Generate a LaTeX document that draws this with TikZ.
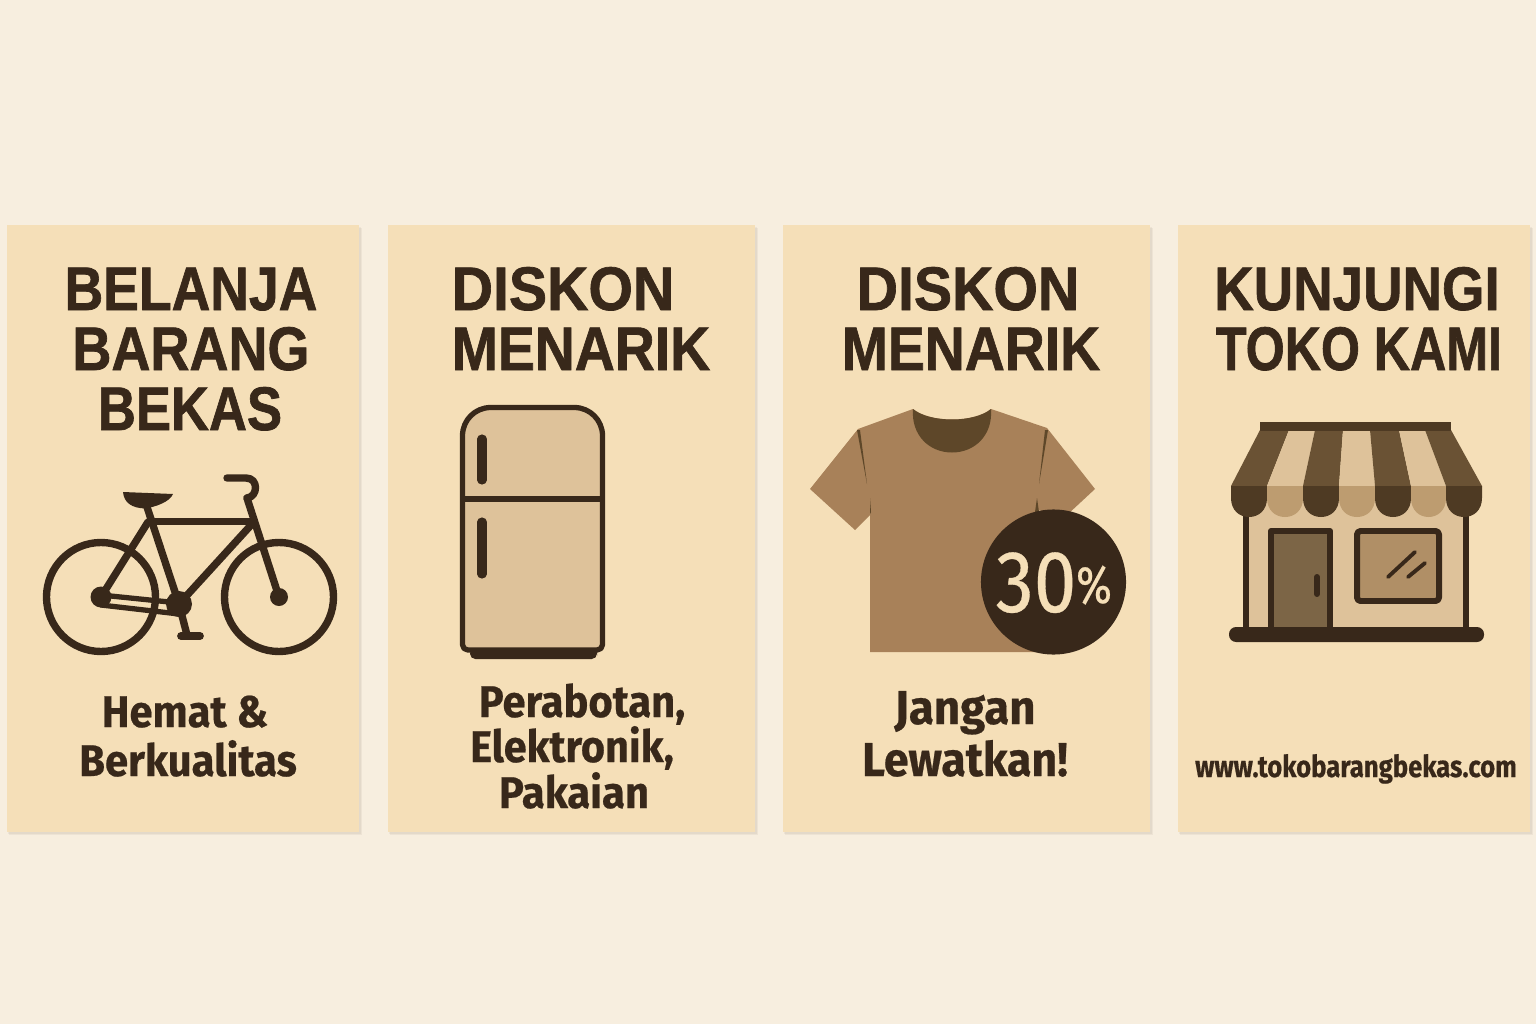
\documentclass[tikz,border=0pt]{standalone}
\usepackage{fontspec}
\setmainfont{Fira Sans}
\newfontfamily\heavyfont[FakeBold=0.5]{Fira Sans Bold}
\newfontfamily\titlefont[FakeBold=1.2]{Liberation Sans Bold}
\newfontfamily\mediumfont[FakeBold=0.4]{Fira Sans}
\usepackage{tikz}

\definecolor{paper}{HTML}{F7EEDF}
\definecolor{panel}{HTML}{F5DFB8}
\definecolor{ink}{HTML}{38281A}
\definecolor{tan}{HTML}{DEC29A}
\definecolor{shirt}{HTML}{A88159}
\definecolor{neck}{HTML}{5E4729}
\definecolor{stripe}{HTML}{6A5234}
\definecolor{flap}{HTML}{4E3A23}
\definecolor{flaplight}{HTML}{BD9C70}
\definecolor{door}{HTML}{7C6546}
\definecolor{glass}{HTML}{B08F66}

\tikzset{
  panelbox/.style={fill=panel},
  panelshade/.style={fill=ink,opacity=0.05},
  title/.style={font=\titlefont\fontsize{17.5}{20}\selectfont,text=ink,inner sep=0pt,anchor=base,transform shape},
  caption/.style={font=\heavyfont\fontsize{12.6}{14}\selectfont,text=ink,inner sep=0pt,anchor=base,transform shape},
  bikeline/.style={draw=ink,line width=2.1pt,line cap=round,line join=round},
  outline/.style={draw=ink,line width=1.5pt,line join=round}
}

\begin{document}
\begin{tikzpicture}[x=0.01cm,y=-0.01cm]
\useasboundingbox (0,0) rectangle (1536,1024);
% Background
\fill[paper] (0,0) rectangle (1536,1024);

% Panels
\fill[panelshade] (9,228) rectangle (362,835);
\fill[panelshade] (390,228) rectangle (758,835);
\fill[panelshade] (785,228) rectangle (1153,835);
\fill[panelshade] (1180,228) rectangle (1533,835);
\fill[panelshade] (8,227) rectangle (360.5,833.5);
\fill[panelshade] (389,227) rectangle (756.5,833.5);
\fill[panelshade] (784,227) rectangle (1151.5,833.5);
\fill[panelshade] (1179,227) rectangle (1531.5,833.5);
\fill[panelbox] (7,225) rectangle (359,832);
\fill[panelbox] (388,225) rectangle (755,832);
\fill[panelbox] (783,225) rectangle (1150,832);
\fill[panelbox] (1178,225) rectangle (1530,832);

% Panel 1 text
\node[title,xscale=0.87] (belanja) at (191,310) {BELANJA};
\node[title,xscale=0.878] (barang) at (191,370) {BARANG};
\node[title,xscale=0.855] (bekas) at (190,430) {BEKAS};
\node[caption,xscale=0.94] (hemat) at (185,727) {Hemat \&};
\node[caption,xscale=0.945] (berkualitas) at (188,776) {Berkualitas};

% Bicycle
\draw[bikeline] (101,597) circle (54.5);
\draw[bikeline] (279,597) circle (54.5);
\draw[bikeline] (147,507) -- (179,604);
\draw[bikeline] (150,521.5) -- (252,521.5);
\draw[bikeline] (252,524) -- (179,604);
\draw[bikeline] (148,522) -- (101,597);
\draw[bikeline] (247,498) -- (279,597);
\draw[bikeline,line width=1.5pt] (101,595) -- (179,603);
\draw[bikeline,line width=1.5pt] (101,605) -- (179,614);
\draw[bikeline] (247,498) .. controls (258,497) and (259,478) .. (246,478) -- (227,478);
\draw[bikeline] (179,604) -- (187,635);
\draw[bikeline,line width=2.2pt] (181,636) -- (200,636);
\fill[ink] (101,597) circle (10.5);
\fill[ink] (279,597) circle (9);
\fill[ink] (179,604) circle (13);
\fill[ink] (123,492) -- (173,494) .. controls (170,502) and (155,507) .. (145,508.5) .. controls (132,508) and (124,503) .. cycle;

% Panel 2 text
\node[title,xscale=0.93] (diskonb) at (563,310) {DISKON};
\node[title,xscale=0.90] (menarikb) at (581,370) {MENARIK};
\node[caption,xscale=0.94] (perabotan) at (582,717) {Perabotan,};
\node[caption,xscale=0.935] (elektronik) at (572,762) {Elektronik,};
\node[caption,xscale=0.945] (pakaian) at (574,808) {Pakaian};

% Fridge
\fill[ink] (470,648) -- (597,648) -- (597,656) [rounded corners=1.5pt] -- (597,659) -- (470,659) -- cycle;
\draw[outline,fill=tan,rounded corners=8pt] (462.5,650) [rounded corners=1.5pt] -- (602.5,650) [rounded corners=8pt] -- (602.5,407.5) -- (462.5,407.5) [rounded corners=1.5pt] -- cycle;
\draw[outline,line width=1.8pt] (462.5,499) -- (602.5,499);
\draw[ink,line width=2.6pt,line cap=round] (482,439) -- (482,480);
\draw[ink,line width=2.6pt,line cap=round] (482,522) -- (482,574);

% Panel 3 text
\node[title,xscale=0.93] (diskonc) at (968,310) {DISKON};
\node[title,xscale=0.90] (menarikc) at (971,370) {MENARIK};
\node[caption,font=\heavyfont\fontsize{13.5}{15}\selectfont,xscale=0.96] (jangan) at (965,724) {Jangan};
\node[caption,font=\heavyfont\fontsize{13.5}{15}\selectfont,xscale=0.94] (lewatkan) at (965,776) {Lewatkan!};

% T-shirt
\fill[shirt] (913,409) -- (858,429) -- (810,489) -- (855,530) -- (870,515) -- (870,652) -- (1040,652) -- (1037,510) -- (1067,515) -- (1095,489) -- (1047,428) -- (991,409) .. controls (974,423) and (930,423) .. cycle;
\fill[neck] (913,409) .. controls (930,423) and (974,423) .. (991,409) .. controls (993,435) and (975,452.5) .. (952,452.5) .. controls (929,452.5) and (911,435) .. cycle;
\fill[neck] (857,430) -- (860,430) -- (867,484) -- cycle;
\fill[neck] (1048,430) -- (1045,430) -- (1039,484) -- cycle;
\fill[neck] (870,498) -- (871,512) -- (870,514) -- cycle;
\fill[neck] (1037,498) -- (1039,512) -- (1035,512) -- cycle;
\node[circle,fill=ink,minimum size=145*0.2845pt,inner sep=0pt] (badge) at (1053.5,582) {};
\node[font=\mediumfont\fontsize{25}{26}\selectfont,text=panel,inner sep=0pt,anchor=base,transform shape,xscale=0.87] (thirty) at (1036,612) {30};
\node[font=\mediumfont\fontsize{15}{16}\selectfont,text=panel,inner sep=0pt,anchor=base,transform shape,xscale=0.82] (percent) at (1094,603) {\%};

% Panel 4 text
\node[title,xscale=0.888] (kunjungi) at (1357,310) {KUNJUNGI};
\node[title,xscale=0.815] (toko) at (1359,370) {TOKO KAMI};
\node[caption,font=\heavyfont\fontsize{8.6}{10}\selectfont,xscale=0.85] (website) at (1356,777) {www.tokobarangbekas.com};

% Shop walls
\fill[tan] (1247,500) rectangle (1465,627);
\draw[ink,line width=1.6pt] (1246,510) -- (1246,627);
\draw[ink,line width=1.6pt] (1466,510) -- (1466,627);
\draw[outline,line width=1.7pt,fill=door] (1271,627) -- (1271,531) -- (1330,531) -- (1330,627);
\draw[ink,line width=1.7pt,line cap=round] (1317,577) -- (1317,594);
\draw[outline,line width=1.7pt,fill=glass,rounded corners=1pt] (1357,531) rectangle (1439,601);
\draw[ink,line width=1.1pt,line cap=round] (1388,577) -- (1415,552);
\draw[ink,line width=1.1pt,line cap=round] (1408,577) -- (1425,563);
\fill[ink,rounded corners=2pt] (1229,627) rectangle (1484,642);

% Awning
\fill[stripe] (1260,430) -- (1289,430) -- (1267,486) -- (1231,486) -- cycle;
\fill[tan] (1289,430) -- (1315,430) -- (1303,486) -- (1267,486) -- cycle;
\fill[stripe] (1315,430) -- (1343,430) -- (1339,486) -- (1303,486) -- cycle;
\fill[tan] (1343,430) -- (1370,430) -- (1375,486) -- (1339,486) -- cycle;
\fill[stripe] (1370,430) -- (1399,430) -- (1411,486) -- (1375,486) -- cycle;
\fill[tan] (1399,430) -- (1425,430) -- (1446,486) -- (1411,486) -- cycle;
\fill[stripe] (1425,430) -- (1451,430) -- (1482,486) -- (1446,486) -- cycle;
\fill[flap] (1231,486) -- (1267,486) -- (1267,498) .. controls (1267,510) and (1259,517) .. (1249,517) .. controls (1239,517) and (1231,510) .. (1231,498) -- cycle;
\fill[flaplight] (1267,486) -- (1303,486) -- (1303,498) .. controls (1303,510) and (1295,517) .. (1285,517) .. controls (1275,517) and (1267,510) .. (1267,498) -- cycle;
\fill[flap] (1303,486) -- (1339,486) -- (1339,498) .. controls (1339,510) and (1331,517) .. (1321,517) .. controls (1311,517) and (1303,510) .. (1303,498) -- cycle;
\fill[flaplight] (1339,486) -- (1375,486) -- (1375,498) .. controls (1375,510) and (1367,517) .. (1357,517) .. controls (1347,517) and (1339,510) .. (1339,498) -- cycle;
\fill[flap] (1375,486) -- (1411,486) -- (1411,498) .. controls (1411,510) and (1403,517) .. (1393,517) .. controls (1383,517) and (1375,510) .. (1375,498) -- cycle;
\fill[flaplight] (1411,486) -- (1446,486) -- (1446,498) .. controls (1446,510) and (1438,517) .. (1428.5,517) .. controls (1419,517) and (1411,510) .. (1411,498) -- cycle;
\fill[flap] (1446,486) -- (1482,486) -- (1482,498) .. controls (1482,510) and (1474,517) .. (1464,517) .. controls (1454,517) and (1446,510) .. (1446,498) -- cycle;
\fill[flap] (1260,422) rectangle (1451,431);
\end{tikzpicture}
\end{document}
